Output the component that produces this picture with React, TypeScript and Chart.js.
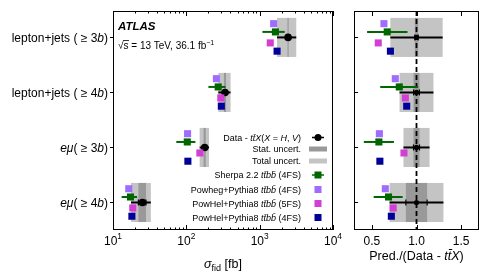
import React, { useEffect, useRef } from "react";
import { Chart, registerables } from "chart.js";
Chart.register(...registerables);

// ---------------- data ----------------
const categories = ["lepton+jets ( ≥ 3b)", "lepton+jets ( ≥ 4b)", "eμ( ≥ 3b)", "eμ( ≥ 4b)"];
const dataXsec = [2440, 337, 178, 25.2]; // fb, Data - ttX
const dataStat = [45, 11, 6, 3.0];
const dataTotal = [715, 64, 26, 7.6];
const sherpaXsec = [1640, 272, 103, 17.3];
const sherpaLow = [1090, 200, 73, 13.1];
const sherpaHigh = [2195, 343, 133, 21.3];
const powhegXsec = [1550, 257, 104, 16.4];
const powhel5Xsec = [1395, 295, 153, 18.6];
const powhel4Xsec = [1727, 300, 105, 18.1];
const logTicks = [10, 100, 1000, 10000];
const ratioTicks = [0.5, 1.0, 1.5];
const legendNames = [
  "Data - tt̄X(X = H, V)",
  "Stat. uncert.",
  "Total uncert.",
  "Sherpa 2.2 tt̄bb̄ (4FS)",
  "Powheg+Pythia8 tt̄bb̄ (4FS)",
  "PowHel+Pythia8 tt̄bb̄ (5FS)",
  "PowHel+Pythia8 tt̄bb̄ (4FS)",
];

// ---------------- style ----------------
const FONT = "'Liberation Sans', Arial, Helvetica, sans-serif";
const COL = {
  data: "#000000",
  stat: "#999999",
  total: "#c4c4c4",
  sherpa: "#006600",
  powheg: "#9f6cff",
  powhel5: "#d23fd2",
  powhel4: "#000099",
};
const OFF = { powheg: -0.25, sherpa: -0.1, data: 0, powhel5: 0.1, powhel4: 0.25 };
const BOX_HALF = 0.355;
const YMIN = -0.48;
const YMAX = 3.5;

type Seg = { t: string; i?: boolean; b?: boolean; s?: number; dy?: number };

function fontFor(seg: Seg, size: number) {
  const sz = size * (seg.s ?? 1);
  return `${seg.i ? "italic " : ""}${seg.b ? "bold " : ""}${sz}px ${FONT}`;
}
function segWidth(ctx: CanvasRenderingContext2D, segs: Seg[], size: number) {
  let w = 0;
  for (const s of segs) {
    ctx.font = fontFor(s, size);
    w += ctx.measureText(s.t).width;
  }
  return w;
}
function drawSegs(
  ctx: CanvasRenderingContext2D,
  segs: Seg[],
  x: number,
  y: number,
  size: number,
  align: "left" | "right" | "center"
) {
  const w = segWidth(ctx, segs, size);
  let cx = align === "right" ? x - w : align === "center" ? x - w / 2 : x;
  ctx.textAlign = "left";
  ctx.textBaseline = "alphabetic";
  for (const s of segs) {
    ctx.font = fontFor(s, size);
    ctx.fillText(s.t, cx, y + (s.dy ?? 0));
    cx += ctx.measureText(s.t).width;
  }
  return w;
}
function richify(text: string, re: RegExp): Seg[] {
  const out: Seg[] = [];
  let last = 0;
  text.replace(re, (m: string, ...args: any[]) => {
    const idx = args[args.length - 2] as number;
    if (idx > last) out.push({ t: text.slice(last, idx) });
    out.push({ t: m, i: true });
    last = idx + m.length;
    return m;
  });
  if (last < text.length) out.push({ t: text.slice(last) });
  return out;
}
const catSegs = (s: string) => richify(s, /eμ|(?<=\d)b/g);
const nameSegs = (s: string) => richify(s, /tt̄bb̄|tt̄X|\bX\b|\bH\b|\bV\b/g);

function frame(ctx: CanvasRenderingContext2D, a: any) {
  ctx.save();
  ctx.strokeStyle = "#000";
  ctx.lineWidth = 1;
  ctx.strokeRect(a.left + 0.5, a.top + 0.5, a.right - a.left - 1, a.bottom - a.top - 1);
  ctx.restore();
}

function line(ctx: CanvasRenderingContext2D, x0: number, y0: number, x1: number, y1: number) {
  ctx.beginPath();
  ctx.moveTo(x0, y0);
  ctx.lineTo(x1, y1);
  ctx.stroke();
}

// draws uncertainty boxes and error bars (through the chart's scales)
function drawBands(chart: any, ratio: boolean) {
  const ctx: CanvasRenderingContext2D = chart.ctx;
  const xs = chart.scales.x;
  const ys = chart.scales.y;
  const a = chart.chartArea;
  ctx.save();
  ctx.beginPath();
  ctx.rect(a.left, a.top, a.right - a.left, a.bottom - a.top);
  ctx.clip();
  for (let i = 0; i < categories.length; i++) {
    const norm = ratio ? dataXsec[i] : 1;
    const c = dataXsec[i] / norm;
    const y0 = ys.getPixelForValue(i - BOX_HALF);
    const y1 = ys.getPixelForValue(i + BOX_HALF);
    const tl = xs.getPixelForValue(c - dataTotal[i] / norm);
    const th = xs.getPixelForValue(c + dataTotal[i] / norm);
    ctx.fillStyle = COL.total;
    ctx.fillRect(tl, y0, th - tl, y1 - y0);
    const sl = xs.getPixelForValue(c - dataStat[i] / norm);
    const sh = xs.getPixelForValue(c + dataStat[i] / norm);
    ctx.fillStyle = COL.stat;
    ctx.fillRect(sl, y0, Math.max(1, sh - sl), y1 - y0);
  }
  if (ratio) {
    ctx.strokeStyle = "#000";
    ctx.lineWidth = 1.8;
    ctx.setLineDash([5, 3]);
    const x1 = xs.getPixelForValue(1);
    line(ctx, x1, a.top, x1, a.bottom);
    ctx.setLineDash([]);
  }
  for (let i = 0; i < categories.length; i++) {
    const norm = ratio ? dataXsec[i] : 1;
    const c = dataXsec[i] / norm;
    const y = ys.getPixelForValue(i);
    ctx.strokeStyle = "#000";
    ctx.lineWidth = 2;
    line(ctx, xs.getPixelForValue(c - dataTotal[i] / norm), y, xs.getPixelForValue(c + dataTotal[i] / norm), y);
    ctx.lineWidth = 1.2;
    for (const sgn of [-1, 1]) {
      const xp = xs.getPixelForValue(c + (sgn * dataStat[i]) / norm);
      line(ctx, xp, y - 3, xp, y + 3);
    }
    const ys2 = ys.getPixelForValue(i + OFF.sherpa);
    ctx.strokeStyle = COL.sherpa;
    ctx.lineWidth = 2;
    line(ctx, xs.getPixelForValue(sherpaLow[i] / norm), ys2, xs.getPixelForValue(sherpaHigh[i] / norm), ys2);
  }
  ctx.restore();
}

function seriesDatasets(ratio: boolean) {
  const mk = (label: string, vals: number[], off: number, color: string, style: string, r: number) => ({
    label,
    data: vals.map((v, i) => ({ x: ratio ? v / dataXsec[i] : v, y: i + off })),
    pointStyle: style,
    pointRadius: r,
    pointBorderWidth: 0,
    backgroundColor: color,
    borderColor: color,
    showLine: false,
  });
  return [
    mk("Powheg+Pythia8", powhegXsec, OFF.powheg, COL.powheg, "rect", 5),
    mk("PowHel 5FS", powhel5Xsec, OFF.powhel5, COL.powhel5, "rect", 5),
    mk("PowHel 4FS", powhel4Xsec, OFF.powhel4, COL.powhel4, "rect", 5),
    mk("Sherpa", sherpaXsec, OFF.sherpa, COL.sherpa, "rect", 5),
    mk("Data", dataXsec, OFF.data, COL.data, "circle", ratio ? 2.6 : 3.8),
  ];
}

const leftPlugin = {
  id: "leftDeco",
  beforeDatasetsDraw(chart: any) {
    drawBands(chart, false);
  },
  afterDraw(chart: any) {
    const ctx: CanvasRenderingContext2D = chart.ctx;
    const a = chart.chartArea;
    const xs = chart.scales.x;
    const ys = chart.scales.y;
    frame(ctx, a);
    ctx.save();
    ctx.strokeStyle = "#000";
    ctx.lineWidth = 1;
    // log ticks, inward, top and bottom
    for (let d = 0; d < logTicks.length; d++) {
      const base = logTicks[d];
      for (let m = 1; m <= 9; m++) {
        const v = base * m;
        if (v > logTicks[logTicks.length - 1]) break;
        const x = Math.round(xs.getPixelForValue(v)) + 0.5;
        const len = m === 1 ? 5 : 2.5;
        line(ctx, x, a.bottom, x, a.bottom - len);
        line(ctx, x, a.top, x, a.top + len);
      }
    }
    // category ticks (outward)
    for (let i = 0; i < categories.length; i++) {
      const y = Math.round(ys.getPixelForValue(i)) + 0.5;
      line(ctx, a.left - 3, y, a.left, y);
    }
    ctx.fillStyle = "#000";
    // tick labels
    for (const t of logTicks) {
      const x = xs.getPixelForValue(t);
      drawSegs(ctx, [{ t: "10" }, { t: String(Math.round(Math.log10(t))), s: 0.7, dy: -6 }], x, a.bottom + 15, 12, "center");
    }
    // axis title
    drawSegs(
      ctx,
      [{ t: "σ", i: true }, { t: "fid", s: 0.72, dy: 3 }, { t: " [fb]" }],
      (a.left + a.right) / 2,
      a.bottom + 38,
      12.5,
      "center"
    );
    // category labels
    for (let i = 0; i < categories.length; i++) {
      const y = ys.getPixelForValue(i);
      drawSegs(ctx, catSegs(categories[i]), a.left - 5, y + 4.3, 12, "right");
    }
    // ATLAS label
    drawSegs(ctx, [{ t: "ATLAS", i: true, b: true }], a.left + 5, a.top + 19, 11.5, "left");
    const sx = a.left + 5;
    const sy = a.top + 38;
    ctx.font = `10px ${FONT}`;
    const wr = ctx.measureText("√").width;
    const ws = ctx.measureText("s").width;
    drawSegs(ctx, [{ t: "√s = 13 TeV, 36.1 fb" }, { t: "−1", s: 0.7, dy: -4 }], sx, sy, 10, "left");
    ctx.lineWidth = 0.8;
    line(ctx, sx + wr - 0.5, sy - 8.5, sx + wr + ws + 0.5, sy - 8.5);
    // legend
    const symX = a.right - 15;
    const txtX = a.right - 32;
    const rows = [137.5, 149, 161, 175, 189.5, 203.5, 217.5];
    for (let k = 0; k < legendNames.length; k++) {
      const y = rows[k];
      ctx.fillStyle = "#000";
      drawSegs(ctx, nameSegs(legendNames[k]), txtX, y + 3.3, 9, "right");
      if (k === 0) {
        ctx.strokeStyle = "#000";
        ctx.lineWidth = 1.5;
        line(ctx, symX - 6, y, symX + 6, y);
        ctx.beginPath();
        ctx.arc(symX, y, 3.5, 0, Math.PI * 2);
        ctx.fill();
      } else if (k === 1 || k === 2) {
        ctx.fillStyle = k === 1 ? COL.stat : COL.total;
        ctx.fillRect(symX - 9, y - 2.5, 18, 5);
      } else {
        const col = [COL.sherpa, COL.powheg, COL.powhel5, COL.powhel4][k - 3];
        ctx.fillStyle = col;
        if (k === 3) {
          ctx.strokeStyle = col;
          ctx.lineWidth = 1.5;
          line(ctx, symX - 6, y, symX + 6, y);
        }
        ctx.fillRect(symX - 3.5, y - 3.5, 7, 7);
      }
    }
    ctx.restore();
  },
};

const rightPlugin = {
  id: "rightDeco",
  beforeDatasetsDraw(chart: any) {
    drawBands(chart, true);
  },
  afterDraw(chart: any) {
    const ctx: CanvasRenderingContext2D = chart.ctx;
    const a = chart.chartArea;
    const xs = chart.scales.x;
    const ys = chart.scales.y;
    frame(ctx, a);
    ctx.save();
    ctx.strokeStyle = "#000";
    ctx.lineWidth = 1;
    for (const t of ratioTicks) {
      const x = Math.round(xs.getPixelForValue(t)) + 0.5;
      line(ctx, x, a.bottom, x, a.bottom - 5);
      line(ctx, x, a.top, x, a.top + 5);
    }
    for (let i = 0; i < categories.length; i++) {
      const y = Math.round(ys.getPixelForValue(i)) + 0.5;
      line(ctx, a.left, y, a.left + 4, y);
    }
    ctx.fillStyle = "#000";
    for (const t of ratioTicks) {
      drawSegs(ctx, [{ t: t.toFixed(1) }], xs.getPixelForValue(t), a.bottom + 15, 12, "center");
    }
    drawSegs(
      ctx,
      [{ t: "Pred./(Data - " }, { t: "tt̄X", i: true }, { t: ")" }],
      (a.left + a.right) / 2,
      a.bottom + 30,
      12.5,
      "center"
    );
    ctx.restore();
  },
};

function makeChart(canvas: HTMLCanvasElement, ratio: boolean) {
  return new Chart(canvas, {
    type: "scatter",
    data: { datasets: seriesDatasets(ratio) as any },
    options: {
      animation: false,
      responsive: false,
      maintainAspectRatio: false,
      events: [],
      layout: {
        padding: ratio
          ? { left: 14, right: 11, top: 11, bottom: 50 }
          : { left: 113, right: 12, top: 11, bottom: 50 },
      },
      scales: {
        x: ratio
          ? { type: "linear", min: 0.3, max: 1.7, display: false }
          : { type: "logarithmic", min: 10, max: 10000, display: false },
        y: { type: "linear", min: YMIN, max: YMAX, reverse: true, display: false },
      },
      plugins: { legend: { display: false }, tooltip: { enabled: false } },
    } as any,
    plugins: [ratio ? rightPlugin : leftPlugin],
  });
}

export default function App() {
  const leftRef = useRef<HTMLCanvasElement>(null);
  const rightRef = useRef<HTMLCanvasElement>(null);
  useEffect(() => {
    const charts = [makeChart(leftRef.current!, false), makeChart(rightRef.current!, true)];
    return () => charts.forEach((c) => c.destroy());
  }, []);
  return (
    <div style={{ position: "fixed", left: 0, top: 0, width: 490, height: 280, background: "#fff" }}>
      <canvas
        ref={leftRef}
        width={345}
        height={280}
        style={{ position: "absolute", left: 0, top: 0, width: 345, height: 280 }}
      />
      <canvas
        ref={rightRef}
        width={150}
        height={280}
        style={{ position: "absolute", left: 340, top: 0, width: 150, height: 280 }}
      />
    </div>
  );
}
